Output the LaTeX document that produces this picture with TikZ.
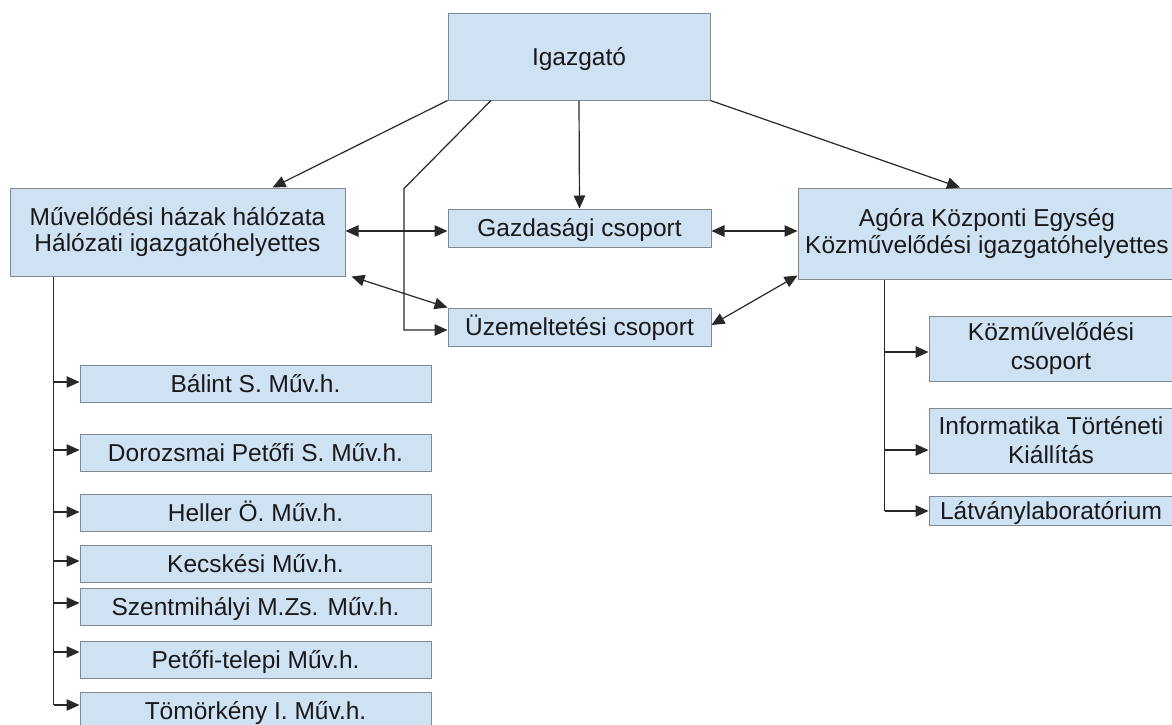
\documentclass[tikz,border=0pt]{standalone}
\usepackage{fontspec}
\setmainfont{Liberation Sans}
\usetikzlibrary{arrows.meta}
\definecolor{boxfill}{RGB}{207,226,243}
\definecolor{boxline}{RGB}{128,138,148}
\definecolor{conn}{RGB}{40,40,40}
\definecolor{txt}{RGB}{25,25,25}
\begin{document}
\begin{tikzpicture}[x=1pt,y=-1pt,
 box/.style={draw=boxline, fill=boxfill, line width=1pt, inner sep=0pt, align=center, text=txt, font=\fontsize{24.5}{26.5}\selectfont},
 one/.style={text height=17.5pt, text depth=0pt},
 tall/.style={font=\fontsize{24.5}{29}\selectfont},
 ln/.style={draw=conn, line width=1.2pt},
 tip/.tip={Triangle[length=13pt,width=11.5pt]},
 arr/.style={ln, -tip},
 barr/.style={ln, tip-tip}]
\useasboundingbox (0,0) rectangle (1172,724);
\fill[white] (0,0) rectangle (1172,724);

% top
\node[box,one,minimum width=262pt,minimum height=87pt] (ig) at (579,56.5) {Igazgató};
% second level
\node[box,minimum width=335pt,minimum height=88pt] (mh) at (177.5,232) {Művelődési házak hálózata\\Hálózati igazgatóhelyettes};
\node[box,one,minimum width=263pt,minimum height=38pt] (gaz) at (579.5,228) {Gazdasági csoport};
\node[box,one,minimum width=263pt,minimum height=38pt] (uz) at (579.5,327) {Üzemeltetési csoport};
\node[box,minimum width=378pt,minimum height=91pt] (ag) at (987,233.5) {Agóra Központi Egység\\Közművelődési igazgatóhelyettes};
% right column
\node[box,tall,minimum width=244pt,minimum height=65pt] (kcs) at (1051,348.5) {Közművelődési\\csoport};
\node[box,tall,minimum width=244pt,minimum height=65pt] (inf) at (1051,440.5) {Informatika Történeti\\Kiállítás};
\node[box,one,minimum width=244pt,minimum height=29pt] (lat) at (1051,511) {Látványlaboratórium};
% left column
\node[box,one,minimum width=351pt,minimum height=37pt] (b1) at (255.5,383.5) {Bálint S. Műv.h.};
\node[box,one,minimum width=351pt,minimum height=37pt] (b2) at (255.5,452.5) {Dorozsmai Petőfi S. Műv.h.};
\node[box,one,minimum width=351pt,minimum height=37pt] (b3) at (255.5,513) {Heller Ö. Műv.h.};
\node[box,one,minimum width=351pt,minimum height=37pt] (b4) at (255.5,563.5) {Kecskési Műv.h.};
\node[box,one,minimum width=351pt,minimum height=37pt] (b5) at (255.5,607) {Szentmihályi M.Zs. Műv.h.};
\node[box,one,minimum width=351pt,minimum height=37pt] (b6) at (255.5,660) {Petőfi-telepi Műv.h.};
\node[box,one,minimum width=351pt,minimum height=37pt] (b7) at (255.5,710.5) {Tömörkény I. Műv.h.};

% from Igazgató
\draw[arr] (ig.south west) -- ([xshift=263pt]mh.north west);
\draw[arr] (ig.south east) -- ([xshift=-27pt]ag.north);
\draw[arr] (ig.south) -- (gaz.north);
\coordinate (uza) at ([yshift=-3pt]uz.west);
\draw[arr] ([xshift=-88pt]ig.south) -- ++(-87,88) coordinate (bend) -- (bend |- uza) -- (uza);

% horizontal links
\coordinate (gw) at ([yshift=-3pt]gaz.west);
\coordinate (ge) at ([yshift=-3pt]gaz.east);
\draw[barr] (mh.east |- gw) -- (gw);
\draw[barr] (ge) -- (ag.west |- ge);
\draw[barr] ([xshift=6pt]mh.south east) -- (uz.north west);
\draw[barr] ([yshift=2pt]uz.east) -- ([yshift=4pt]ag.south west);

% left trunk
\coordinate (lt) at ([xshift=44pt]mh.south west);
\foreach \n/\s in {b1/1.5,b2/2.5,b3/1,b4/2.5,b5/4,b6/8,b7/5.5}{
  \coordinate (\n a) at ([yshift=\s pt]\n.west);
  \draw[arr] (lt |- \n a) -- (\n a);
}
\draw[ln] (lt) -- (lt |- b7a);

% right trunk
\coordinate (rt) at ([xshift=87pt]ag.south west);
\coordinate (kcsa) at ([yshift=-3.5pt]kcs.west);
\coordinate (infa) at ([yshift=-9.5pt]inf.west);
\draw[ln] (rt) -- (rt |- lat.west);
\draw[arr] (rt |- kcsa) -- (kcsa);
\draw[arr] (rt |- infa) -- (infa);
\draw[arr] (rt |- lat.west) -- (lat.west);
\end{tikzpicture}
\end{document}
